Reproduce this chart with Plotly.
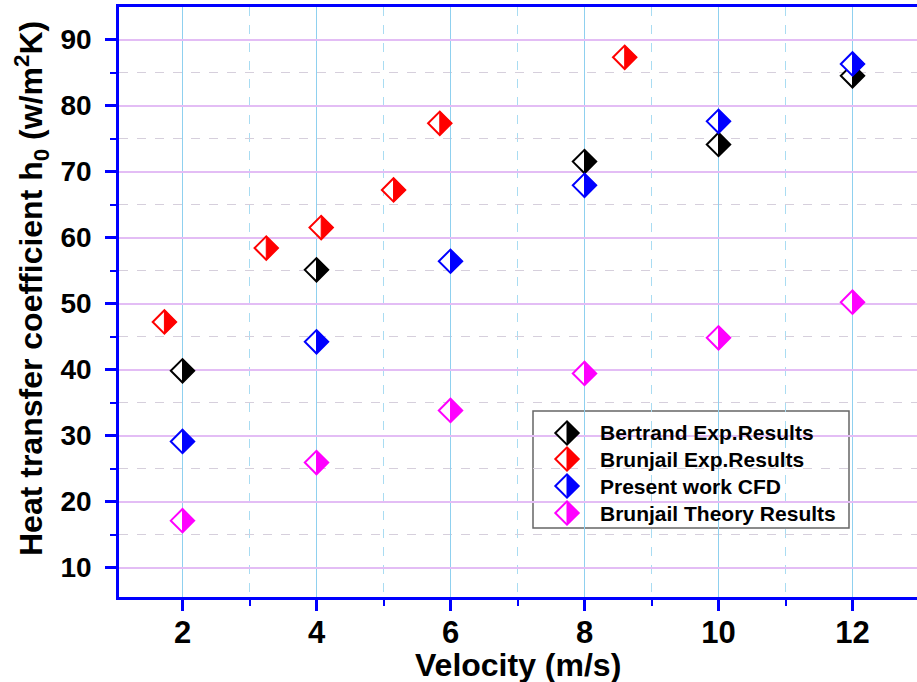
import plotly.graph_objects as go

# ---- data ----
bertrand_v = [2, 4, 8, 10, 12]
bertrand_h = [39.8, 55.1, 71.5, 74.1, 84.5]
brunjail_exp_v = [1.73, 3.25, 4.07, 5.15, 5.84, 8.6]
brunjail_exp_h = [47.2, 58.4, 61.5, 67.2, 77.3, 87.3]
cfd_v = [2, 4, 6, 8, 10, 12]
cfd_h = [29.1, 44.2, 56.4, 67.9, 77.6, 86.3]
theory_v = [2, 4, 6, 8, 10, 12]
theory_h = [17.1, 25.9, 33.8, 39.4, 44.8, 50.2]

series_names = ["Bertrand Exp.Results", "Brunjail Exp.Results",
                "Present work CFD", "Brunjail Theory Results"]
series_x = [bertrand_v, brunjail_exp_v, cfd_v, theory_v]
series_y = [bertrand_h, brunjail_exp_h, cfd_h, theory_h]
colors = ["#000000", "#ff0000", "#0000ff", "#ff00ff"]

x_ticks = [2, 4, 6, 8, 10, 12]
x_minor = [1, 3, 5, 7, 9, 11]
y_ticks = [10, 20, 30, 40, 50, 60, 70, 80, 90]
y_minor = [15, 25, 35, 45, 55, 65, 75, 85]

# ---- layout geometry ----
W, H = 917, 682
ML, MR, MT, MB = 119, 0, 7, 85
PW, PH = W - ML - MR, H - MT - MB
XPX = 67.0          # px per velocity unit
YPX = 6.6           # px per h unit
x0 = 2 - (182.5 - ML) / XPX
XR = [x0, x0 + PW / XPX]
y1 = 90 + (39.5 - MT) / YPX
YR = [y1 - PH / YPX, y1]
SIZE = 18
RD = 1.3 * SIZE / 2.0  # plotly diamond half-extent in px

FONT = "Liberation Sans, Arial, sans-serif"


def half_diamond(xs, ys, dx, dy):
    px, py = [], []
    for x, y in zip(xs, ys):
        px += [x, x + dx, x, x, None]
        py += [y + dy, y, y - dy, y + dy, None]
    return px, py


def to_px_x(p):
    return (p - ML) / PW


def to_px_y(p):
    return (MT + PH - p) / PH


fig = go.Figure()

dx_data = RD * (XR[1] - XR[0]) / PW
dy_data = RD * (YR[1] - YR[0]) / PH

for name, xs, ys, c in zip(series_names, series_x, series_y, colors):
    fig.add_trace(go.Scatter(
        x=xs, y=ys, mode="markers", name=name, showlegend=False,
        marker=dict(symbol="diamond", size=SIZE, color="white",
                    line=dict(color=c, width=2))))
    hx, hy = half_diamond(xs, ys, dx_data, dy_data)
    fig.add_trace(go.Scatter(
        x=hx, y=hy, mode="lines", fill="toself", fillcolor=c,
        line=dict(color=c, width=1), showlegend=False, hoverinfo="skip"))

# ---- custom legend on an overlay [0,1] axis pair ----
leg_mx = to_px_x(567)
leg_tx = to_px_x(598)
leg_rows = [to_px_y(p) for p in (433, 459, 486, 513)]
ldx = RD / PW
ldy = RD / PH
for name, c, ry in zip(series_names, colors, leg_rows):
    fig.add_trace(go.Scatter(
        x=[leg_mx], y=[ry], xaxis="x2", yaxis="y2", mode="markers",
        showlegend=False, hoverinfo="skip",
        marker=dict(symbol="diamond", size=SIZE, color="white",
                    line=dict(color=c, width=2))))
    hx, hy = half_diamond([leg_mx], [ry], ldx, ldy)
    fig.add_trace(go.Scatter(
        x=hx, y=hy, xaxis="x2", yaxis="y2", mode="lines", fill="toself",
        fillcolor=c, line=dict(color=c, width=1), showlegend=False,
        hoverinfo="skip"))
    fig.add_annotation(x=leg_tx, y=ry, xref="paper", yref="paper",
                       text=name, showarrow=False, xanchor="left",
                       yanchor="middle",
                       font=dict(family=FONT, size=21, color="black",
                                 weight="bold"))

fig.add_shape(type="rect", xref="paper", yref="paper",
              x0=to_px_x(533), x1=to_px_x(849), y0=to_px_y(528), y1=to_px_y(411),
              line=dict(color="#666666", width=1.5), fillcolor="white",
              layer="between")

# ---- titles ----
fig.add_annotation(x=to_px_x(518), y=to_px_y(665),
                   xref="paper", yref="paper", showarrow=False,
                   text="Velocity (m/s)", xanchor="center", yanchor="middle",
                   font=dict(family=FONT, size=32, color="black",
                             weight="bold"))
fig.add_annotation(x=to_px_x(31), y=to_px_y(289),
                   xref="paper", yref="paper", showarrow=False,
                   text="Heat transfer coefficient h<sub>0</sub> (w/m<sup>2</sup>K)",
                   textangle=-90, xanchor="center", yanchor="middle",
                   font=dict(family=FONT, size=32, color="black",
                             weight="bold"))

axis_blue = "#0000ff"
fig.update_layout(
    width=W, height=H,
    margin=dict(l=ML, r=MR, t=MT, b=MB),
    paper_bgcolor="white", plot_bgcolor="white",
    showlegend=False,
    xaxis=dict(range=XR, tickvals=x_ticks, ticktext=[str(v) for v in x_ticks],
               showline=True, linecolor=axis_blue, linewidth=3, mirror=True,
               ticks="outside", ticklen=11, tickwidth=3, tickcolor=axis_blue,
               tickfont=dict(family=FONT, size=31, color="black", weight="bold"),
               ticklabelstandoff=-5,
               showgrid=True, gridcolor="#8fd0ef", gridwidth=1,
               zeroline=False,
               minor=dict(tickvals=x_minor, ticks="outside", ticklen=6,
                          tickwidth=2, tickcolor=axis_blue, showgrid=True,
                          gridcolor="#a9dcf2", griddash="dash", gridwidth=1)),
    yaxis=dict(range=YR, tickvals=y_ticks,
               ticktext=[str(v) + "\u00a0" for v in y_ticks],
               showline=True, linecolor=axis_blue, linewidth=3, mirror=False,
               ticks="outside", ticklen=11, tickwidth=3, tickcolor=axis_blue,
               tickfont=dict(family=FONT, size=28, color="black", weight="bold"),
               showgrid=True, gridcolor="#e3bdf5", gridwidth=2,
               zeroline=False,
               minor=dict(tickvals=y_minor, ticks="outside", ticklen=6,
                          tickwidth=2, tickcolor=axis_blue, showgrid=True,
                          gridcolor="#d6cfdc", griddash="dash", gridwidth=1)),
    xaxis2=dict(range=[0, 1], overlaying="x", visible=False, fixedrange=True,
                showgrid=False),
    yaxis2=dict(range=[0, 1], overlaying="y", visible=False, fixedrange=True,
                showgrid=False),
)

fig.write_html("out.html", config={"displayModeBar": False})
